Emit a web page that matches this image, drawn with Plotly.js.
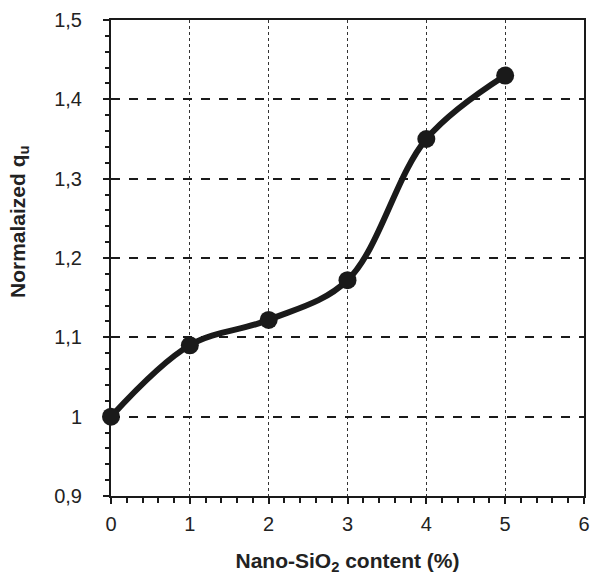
<!DOCTYPE html>
<html><head><meta charset="utf-8">
<script src="https://cdn.plot.ly/plotly-3.0.1.min.js"></script>
<style>html,body{margin:0;padding:0;background:#fff}</style>
</head><body><div id="chart" style="width:590px;height:575px"></div>
<script>
var nanoContent = [0, 1, 2, 3, 4, 5];
var normalizedQu = [1.0, 1.09, 1.122, 1.172, 1.35, 1.43];
var xTickVals = [0, 1, 2, 3, 4, 5, 6];
var xTickText = ['0', '1', '2', '3', '4', '5', '6'];
var yTickVals = [0.9, 1.0, 1.1, 1.2, 1.3, 1.4, 1.5];
var yTickText = ['0,9', '1', '1,1', '1,2', '1,3', '1,4', '1,5'];
var xTitle = '<b>Nano-SiO<sub>2</sub> content (%)</b>';
var yTitle = '<b>Normalaized q<sub>u</sub></b>';

var trace = {
  x: nanoContent, y: normalizedQu, type: 'scatter', mode: 'lines+markers',
  line: {color: '#1a1a1a', width: 6, shape: 'spline', smoothing: 1},
  marker: {color: '#1a1a1a', size: 18},
  cliponaxis: false, showlegend: false
};
var fam = 'Liberation Sans, Arial, sans-serif';
var txt = '#222';
var layout = {
  width: 590, height: 575,
  margin: {l: 111, r: 6, t: 20, b: 79},
  paper_bgcolor: '#fff', plot_bgcolor: '#fff',
  font: {family: fam, color: txt},
  xaxis: {
    range: [0, 6], tickvals: xTickVals, ticktext: xTickText,
    showline: true, linecolor: '#1a1a1a', linewidth: 2, mirror: true,
    ticks: 'outside', ticklen: 6, tickwidth: 2, tickcolor: '#1a1a1a',
    minor: {dtick: 0.2, ticks: 'outside', ticklen: 5, tickwidth: 2, tickcolor: '#1a1a1a', showgrid: false},
    showgrid: true, gridcolor: '#333', gridwidth: 1, griddash: 'dot',
    zeroline: false, tickfont: {size: 20, family: fam, color: txt},
    ticklabelstandoff: 3,
    title: {text: xTitle, font: {size: 21, family: fam, color: txt}, standoff: 22}
  },
  yaxis: {
    range: [0.9, 1.5], tickvals: yTickVals, ticktext: yTickText,
    showline: true, linecolor: '#1a1a1a', linewidth: 2, mirror: true,
    ticks: 'outside', ticklen: 6, tickwidth: 2, tickcolor: '#1a1a1a',
    minor: {dtick: 0.02, ticks: 'outside', ticklen: 4, tickwidth: 2, tickcolor: '#1a1a1a', showgrid: false},
    showgrid: true, gridcolor: '#1a1a1a', gridwidth: 2, griddash: 'dash',
    zeroline: false, tickfont: {size: 20, family: fam, color: txt},
    ticklabelstandoff: 17
  },
  annotations: [{
    text: yTitle, textangle: -90, showarrow: false,
    xref: 'paper', yref: 'paper', x: (19 - 111) / 473, y: (496 - 222) / 476,
    xanchor: 'center', yanchor: 'middle',
    font: {size: 21, family: fam, color: txt}
  }]
};
Plotly.newPlot('chart', [trace], layout, {displayModeBar: false, staticPlot: true});
</script></body></html>
